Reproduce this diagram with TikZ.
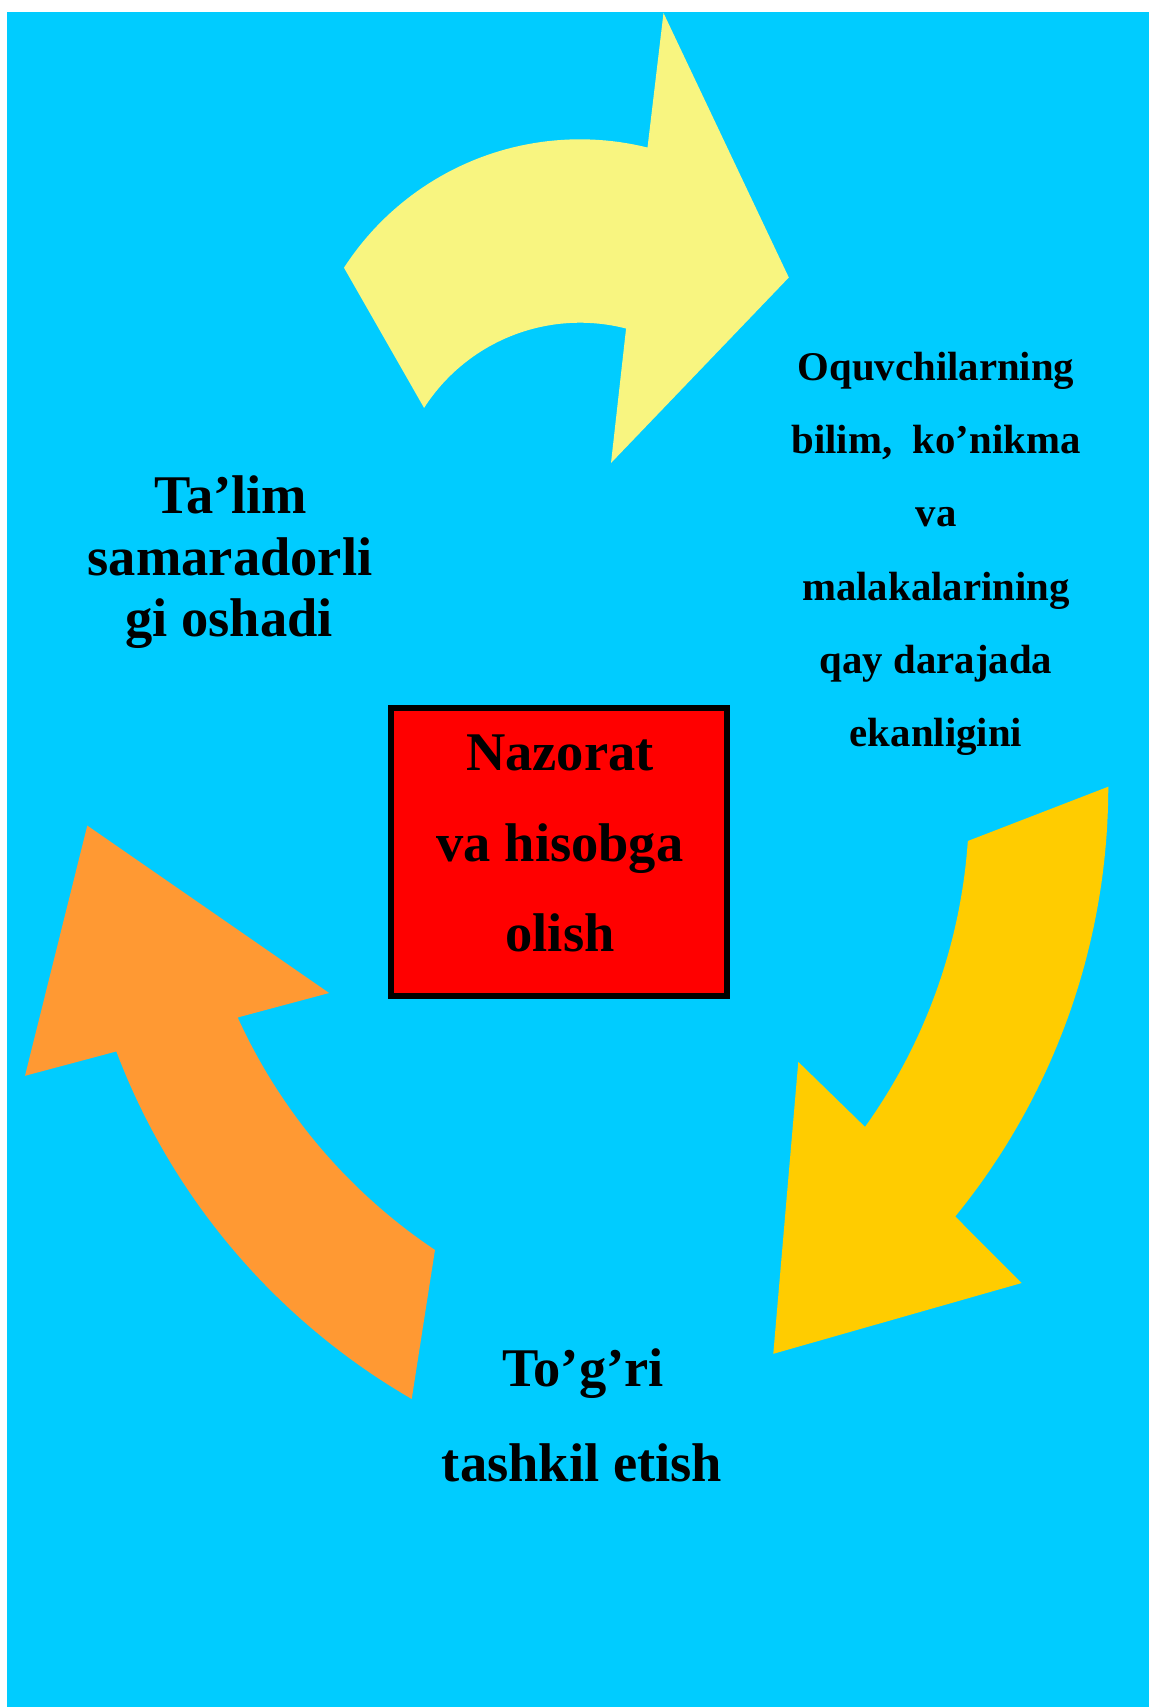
\documentclass[tikz,border=0pt]{standalone}
\usepackage{fontspec}
\setmainfont{Liberation Serif}
\definecolor{bgcyan}{HTML}{00CCFF}
\definecolor{arrowyellow}{HTML}{F8F580}
\definecolor{arrowgold}{HTML}{FFCC00}
\definecolor{arroworange}{HTML}{FF9933}
\definecolor{boxred}{HTML}{FF0000}
\tikzset{
  big/.style={font=\fontsize{54.5}{60}\selectfont\bfseries, inner sep=0pt, anchor=base},
  small/.style={font=\fontsize{40.8}{46}\selectfont\bfseries, inner sep=0pt, anchor=base},
  centerbox/.style={draw=black, line width=6pt, fill=boxred, minimum width=336pt, minimum height=288pt, inner sep=0pt}
}
\begin{document}
\begin{tikzpicture}[x=1pt,y=-1pt]
\useasboundingbox (0,0) rectangle (1149,1707);
\fill[white] (0,0) rectangle (1149,1707);
\fill[bgcyan] (7,12) rectangle (1149,1707);

% top yellow arrow
\fill[arrowyellow] (663.5,13) -- (788.8,277.5) -- (611,463)
  -- plot[domain=75.6:147.3,samples=50] ({580+185.3*cos(\x)},{508-185.3*sin(\x)})
  -- plot[domain=147.1:76.1,samples=50] ({580+281.1*cos(\x)},{420.4-281.1*sin(\x)})
  -- cycle;

% right gold arrow
\fill[arrowgold] (1108.3,786.7)
  -- plot[domain=-3.96:-35.6,samples=50] ({411.9+557.3*cos(\x)},{802.5-557.3*sin(\x)})
  -- (798.3,1061.9) -- (773.3,1353.8) -- (1021.6,1283)
  -- plot[domain=-39.2:0,samples=50] ({428.3+680*cos(\x)},{786.7-680*sin(\x)})
  -- cycle;

% left orange arrow
\fill[arroworange] (87.3,825.6) -- (329.1,993)
  -- plot[domain=204.43:236.2,samples=50] ({744.8+557*cos(\x)},{787.1-557*sin(\x)})
  -- plot[domain=239.96:200.77,samples=50] ({752.1+680*cos(\x)},{810.3-680*sin(\x)})
  -- (25,1075.8) -- cycle;

% central box
\node[centerbox] (box) at (559,851.7) {};
\node[big] (c1) at (560,770) {Nazorat};
\node[big] (c2) at (560,861.7) {va hisobga};
\node[big] (c3) at (560,951.7) {olish};

% left text
\node[big] (l1) at (231,513.3) {Ta’lim};
\node[big] (l2) at (230,575) {samaradorli};
\node[big] (l3) at (229,636.7) {gi oshadi};

% right text
\node[small] (r1) at (936,380) {Oquvchilarning};
\node[small] (r2) at (936,453.3) {bilim,\ \ ko’nikma};
\node[small] (r3) at (936,526.7) {va};
\node[small] (r4) at (936,600) {malakalarining};
\node[small] (r5) at (936,673.3) {qay darajada};
\node[small] (r6) at (936,746.7) {ekanligini};

% bottom text
\node[big] (b1) at (583,1386.7) {To’g’ri};
\node[big] (b2) at (582,1481.7) {tashkil etish};
\end{tikzpicture}
\end{document}
